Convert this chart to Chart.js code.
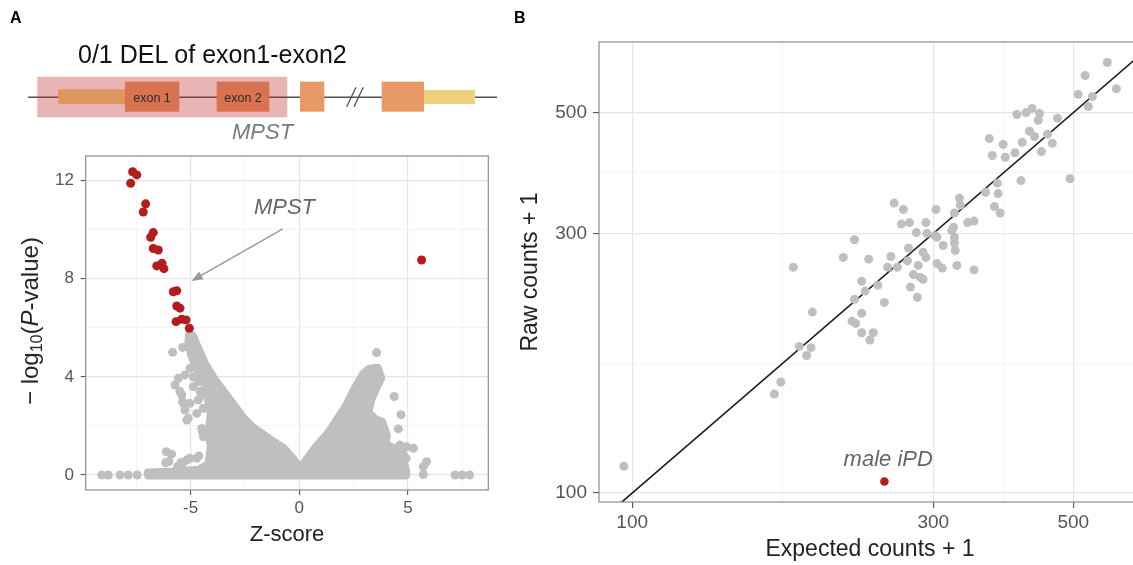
<!DOCTYPE html>
<html>
<head>
<meta charset="utf-8">
<script src="https://cdn.jsdelivr.net/npm/chart.js@4.4.0/dist/chart.umd.min.js"></script>
<style>
html, body { margin: 0; padding: 0; background: #fff; overflow: hidden; }
#wrap { position: relative; width: 1133px; height: 565px; overflow: hidden; font-family: "Liberation Sans", Arial, sans-serif; }
#gene { position: absolute; left: 0; top: 0; z-index: 2; pointer-events: none; }
#boxA { position: absolute; left: 0; top: 150px; width: 500px; height: 415px; }
#boxB { position: absolute; left: 510px; top: 0; width: 650px; height: 565px; }
#ytA { position: absolute; left: 31px; top: 321px; transform: translate(-50%, -50%) rotate(-90deg);
       white-space: nowrap; font-size: 24px; color: #222; }
#ytA sub { font-size: 16px; vertical-align: -4px; }
</style>
</head>
<body>
<div id="wrap">
  <svg id="gene" width="1133" height="150" font-family="Liberation Sans, Arial, sans-serif">
    <text x="10" y="23.3" font-size="16" font-weight="bold" fill="#000">A</text>
    <text x="514" y="23.3" font-size="16" font-weight="bold" fill="#000">B</text>
    <text x="78" y="62.7" font-size="25" fill="#111">0/1 DEL of exon1-exon2</text>
    <line x1="28" y1="97.3" x2="497" y2="97.3" stroke="#505050" stroke-width="1.4"/>
    <rect x="58.3" y="89.3" width="66.7" height="14.7" fill="#f0cf7c"/>
    <rect x="125" y="81.7" width="54.3" height="30" fill="#e89a66"/>
    <rect x="216.7" y="81.7" width="52.6" height="30" fill="#e89a66"/>
    <rect x="300" y="81.7" width="24.3" height="30" fill="#e89a66"/>
    <rect x="381.7" y="81.7" width="42.3" height="30" fill="#e89a66"/>
    <rect x="424" y="90" width="51" height="14" fill="#f0cf7c"/>
    <rect x="37.3" y="76.7" width="250" height="40.6" fill="rgba(190,40,40,0.35)"/>
    <text x="152" y="101.7" font-size="12.5" fill="#2b2b2b" text-anchor="middle">exon 1</text>
    <text x="243" y="101.7" font-size="12.5" fill="#2b2b2b" text-anchor="middle">exon 2</text>
    <line x1="346.7" y1="106.7" x2="356" y2="87.3" stroke="#505050" stroke-width="1.3"/>
    <line x1="354" y1="106.7" x2="363.3" y2="87.3" stroke="#505050" stroke-width="1.3"/>
    <text x="232" y="139" font-size="22" font-style="italic" fill="#7a7a7a">MPST</text>
  </svg>
  <div id="boxA"><canvas id="volcano" width="500" height="415"></canvas></div>
  <div id="ytA">&minus; log<sub>10</sub>(<i>P</i>-value)</div>
  <div id="boxB"><canvas id="counts" width="650" height="565"></canvas></div>
</div>
<script>
// ---- panel A: Z-score vs -log10(P) ----
// outline of the dense grey cloud of windows (Z-score, -log10 P)
var cloudZ = [-6.95, -6.95, -5.8, -4.6, -4.15, -4.05, -4.15, -4.05, -4.2, -4.4, -4.75, -4.95, -5.08, -5.05,
              -4.9, -4.72, -4.34, -3.96, -3.5, -3.04, -2.58, -2.12, -1.66, -1.35, -0.74, -0.3, 0.05,
              0.25, 0.8, 1.35, 1.75, 2.2, 2.5, 2.95, 3.2, 3.6, 3.75, 3.55, 3.3, 3.15, 3.5, 3.8, 4.0, 3.95,
              4.5, 4.75, 4.8, 4.9, 4.9, -6.95];
var cloudP = [0, 0.08, 0.12, 0.2, 0.45, 1.2, 1.75, 2.5, 3.2, 3.9, 4.4, 4.9, 5.4, 5.75,
              5.65, 5.25, 4.5, 3.95, 3.4, 2.86, 2.31, 1.91, 1.63, 1.43, 1.09, 0.65, 0.25,
              0.5, 1.16, 1.7, 2.25, 2.86, 3.4, 4.1, 4.3, 4.35, 3.95, 3.6, 3.1, 2.55, 2.25, 2.15, 1.65, 1.25,
              1.0, 0.9, 0.5, 0.15, 0, 0];
// scattered grey windows outside the cloud
var greyZ = [-9.09, -8.79, -8.25, -7.87, -7.46, -6.12, -5.88, -6.15, -6.0,
             -5.6, -5.45, -5.34, -5.18, -5.03, -4.72, -4.62, -4.46, -4.49, -4.41,
             -5.57, -5.72, -5.26, -5.49, -5.37, -5.26, -5.11, -5.03, -4.88, -4.65,
             -4.34, -4.42, -4.72, -4.88, -4.65, -5.03, -4.57, -5.18, -5.41, -5.34,
             -5.83, -5.37, -4.8,
             3.56, 4.37, 4.68, 4.56, 4.63, 4.94, 5.25, 4.92, 5.86, 5.71, 5.71, 7.17, 7.5, 7.84];
var greyP = [0, 0, 0, 0, 0, 0.95, 0.85, 0.5, 0.55,
             0.35, 0.5, 0.5, 0.61, 0.68, 0.68, 0.78, 1.77, 1.9, 1.56,
             3.94, 3.67, 4.08, 3.40, 2.99, 2.65, 2.31, 2.92, 3.60, 3.06,
             3.26, 2.72, 2.51, 4.0, 3.8, 4.35, 3.4, 2.24, 3.26, 2.92,
             5.0, 5.2, 4.55,
             4.99, 3.2, 2.46, 1.88, 1.22, 1.15, 1.09, 0.68, 0.54, 0.34, 0.02, 0, 0, 0];
// significant windows (red)
var hitZ = [-7.67, -7.48, -7.76, -7.07, -7.18, -6.72, -6.84, -6.72, -6.49, -6.56, -6.32, -6.23,
            -5.80, -5.64, -5.64, -5.49, -5.67, -5.41, -5.21, -5.06, 5.63];
var hitP = [12.36, 12.23, 11.89, 11.05, 10.72, 9.88, 9.69, 9.23, 9.17, 8.52, 8.63, 8.41,
            7.47, 7.51, 6.89, 6.80, 6.25, 6.35, 6.32, 5.98, 8.76];
var zMajor = [-5, 0, 5];
var pMajor = [0, 4, 8, 12];

// ---- panel B: expected vs raw counts ----
var expectedCounts = [566, 522, 585, 509, 536, 528, 407, 421, 430, 442, 440, 472, 426, 434, 455, 368, 387, 415,
  463, 445, 372, 390, 404, 494, 413, 379, 363, 380, 260, 269, 303, 330, 331, 375, 383, 324, 267, 275, 292, 282,
  293, 302, 323, 321, 324, 340, 348, 304, 311, 324, 325, 225, 216, 237, 257, 274, 273, 289, 292, 254, 263, 284,
  304, 310, 327, 348, 180, 231, 245, 234, 225, 251, 279, 286, 289, 276, 283, 193, 231, 223, 226, 231, 241, 238,
  184, 192, 189, 172, 168, 97];
var rawCounts = [618, 585, 553, 540, 535, 513, 496, 500, 509, 498, 484, 488, 462, 452, 456, 448, 437, 441,
  439, 424, 417, 414, 422, 378, 375, 371, 357, 355, 341, 332, 332, 348, 338, 336, 327, 327, 312, 314, 314, 301,
  300, 297, 308, 304, 295, 314, 316, 295, 285, 288, 279, 292, 271, 269, 272, 282, 267, 277, 271, 260, 260, 262,
  264, 259, 262, 257, 260, 245, 241, 235, 227, 224, 252, 249, 247, 239, 229, 215, 214, 207, 205, 197, 197, 191,
  186, 185, 179, 160, 152, 112];
var ipdExpected = [251];
var ipdRaw = [105];
var diagonal = [80, 700];
var countMajor = [100, 300, 500];
var countMinor = [173.2, 387.3];

var GREY = '#bfbfbf', RED = '#b31d1d';
Chart.defaults.font.family = '"Liberation Sans", Arial, sans-serif';

function pts(xs, ys) {
  return xs.map(function (x, i) { return { x: x, y: ys[i] }; });
}
function isIn(list, v) {
  return list.some(function (m) { return Math.abs(m - v) < 1e-6; });
}
// keep the plot area exactly where the layout padding puts it
function noOverhang(s) {
  s.paddingTop = 0; s.paddingBottom = 0; s.paddingLeft = 0; s.paddingRight = 0;
}

// ggplot style panel border
var panelBorder = {
  id: 'panelBorder',
  afterDatasetsDraw: function (chart) {
    var a = chart.chartArea, ctx = chart.ctx;
    ctx.save();
    ctx.strokeStyle = '#8c8c8c';
    ctx.lineWidth = 1.2;
    ctx.strokeRect(a.left, a.top, a.right - a.left, a.bottom - a.top);
    ctx.restore();
  }
};

var mpstNote = {
  id: 'mpstNote',
  afterDatasetsDraw: function (chart) {
    var xs = chart.scales.x, ys = chart.scales.y, ctx = chart.ctx;
    var x0 = xs.getPixelForValue(-0.76), y0 = ys.getPixelForValue(10.03);
    var x1 = xs.getPixelForValue(-4.95), y1 = ys.getPixelForValue(7.91);
    var ang = Math.atan2(y1 - y0, x1 - x0);
    ctx.save();
    ctx.strokeStyle = '#999';
    ctx.fillStyle = '#999';
    ctx.lineWidth = 1.5;
    ctx.beginPath();
    ctx.moveTo(x0, y0);
    ctx.lineTo(x1 - 8 * Math.cos(ang), y1 - 8 * Math.sin(ang));
    ctx.stroke();
    ctx.beginPath();
    ctx.moveTo(x1, y1);
    ctx.lineTo(x1 - 11 * Math.cos(ang) + 4.5 * Math.sin(ang), y1 - 11 * Math.sin(ang) - 4.5 * Math.cos(ang));
    ctx.lineTo(x1 - 11 * Math.cos(ang) - 4.5 * Math.sin(ang), y1 - 11 * Math.sin(ang) + 4.5 * Math.cos(ang));
    ctx.closePath();
    ctx.fill();
    ctx.font = 'italic 22px "Liberation Sans", Arial, sans-serif';
    ctx.fillStyle = '#666';
    ctx.textAlign = 'center';
    ctx.fillText('MPST', xs.getPixelForValue(-0.68), ys.getPixelForValue(10.64));
    ctx.restore();
  }
};

var ipdNote = {
  id: 'ipdNote',
  afterDatasetsDraw: function (chart) {
    var ctx = chart.ctx;
    ctx.save();
    ctx.font = 'italic 22px "Liberation Sans", Arial, sans-serif';
    ctx.fillStyle = '#666';
    ctx.textAlign = 'center';
    ctx.fillText('male iPD', chart.scales.x.getPixelForValue(254.5), chart.scales.y.getPixelForValue(112.1));
    ctx.restore();
  }
};

function gridFor(majors) {
  return {
    color: function (c) { return isIn(majors, c.tick.value) ? '#e6e6e6' : '#f1f1f1'; },
    lineWidth: function (c) { return isIn(majors, c.tick.value) ? 1.2 : 0.8; },
    tickColor: function (c) { return isIn(majors, c.tick.value) ? '#555' : 'rgba(0,0,0,0)'; },
    tickWidth: 1.1
  };
}

new Chart(document.getElementById('volcano').getContext('2d'), {
  type: 'scatter',
  data: {
    datasets: [
      { data: pts(hitZ, hitP), backgroundColor: RED, pointRadius: 4.5, borderWidth: 0 },
      { data: pts(greyZ, greyP), backgroundColor: GREY, pointRadius: 4.5, borderWidth: 0 },
      { data: pts(cloudZ, cloudP), showLine: true, fill: 'shape', backgroundColor: GREY, borderColor: GREY,
        borderWidth: 9, borderJoinStyle: 'round', borderCapStyle: 'round', pointRadius: 0, tension: 0 }
    ]
  },
  options: {
    responsive: false,
    animation: false,
    events: [],
    layout: { padding: { top: 6, right: 11.7, left: 0, bottom: 0 } },
    plugins: { legend: { display: false }, tooltip: { enabled: false } },
    scales: {
      x: {
        type: 'linear', min: -9.83, max: 8.70,
        afterFit: function (s) { s.height = 75; noOverhang(s); },
        ticks: { stepSize: 2.5, includeBounds: false, autoSkip: false, maxRotation: 0, padding: 3.4,
          color: '#555', font: { size: 17 },
          callback: function (v) { return isIn(zMajor, v) ? String(v) : ''; } },
        grid: Object.assign(gridFor(zMajor), { tickLength: 5 }),
        border: { display: false },
        title: { display: true, text: 'Z-score', color: '#222', font: { size: 22 }, padding: { top: 0, bottom: 17 } }
      },
      y: {
        type: 'linear', min: -0.61, max: 13.0,
        afterFit: function (s) { s.width = 85.7; noOverhang(s); },
        ticks: { stepSize: 2, includeBounds: false, autoSkip: false, padding: 6.7,
          color: '#555', font: { size: 17 },
          callback: function (v) { return isIn(pMajor, v) ? String(v) : ''; } },
        grid: Object.assign(gridFor(pMajor), { tickLength: 5 }),
        border: { display: false }
      }
    }
  },
  plugins: [panelBorder, mpstNote]
});

var countGrid = [countMajor[0], countMinor[0], countMajor[1], countMinor[1], countMajor[2]];
function setCountTicks(s) {
  s.ticks = countGrid.map(function (v) { return { value: v }; });
}

new Chart(document.getElementById('counts').getContext('2d'), {
  type: 'scatter',
  data: {
    datasets: [
      { data: pts(ipdExpected, ipdRaw), backgroundColor: RED, pointRadius: 4.3, borderWidth: 0 },
      { data: pts(expectedCounts, rawCounts), backgroundColor: GREY, pointRadius: 4.5, borderWidth: 0 },
      { data: pts(diagonal, diagonal), showLine: true, borderColor: '#1a1a1a', borderWidth: 1.6,
        pointRadius: 0, fill: false }
    ]
  },
  options: {
    responsive: false,
    animation: false,
    events: [],
    layout: { padding: { top: 42, right: 19, left: 0, bottom: 0 } },
    plugins: { legend: { display: false }, tooltip: { enabled: false } },
    scales: {
      x: {
        type: 'logarithmic', min: 88.6, max: 640,
        afterBuildTicks: setCountTicks,
        afterFit: function (s) { s.height = 63; noOverhang(s); },
        ticks: { autoSkip: false, maxRotation: 0, padding: 3.6, color: '#555', font: { size: 19 },
          callback: function (v) { return isIn(countMajor, v) ? String(v) : ''; } },
        grid: Object.assign(gridFor(countMajor), { tickLength: 6 }),
        border: { display: false },
        title: { display: true, text: 'Expected counts + 1', color: '#222', font: { size: 23 },
          padding: { top: 0, bottom: 1.2 } }
      },
      y: {
        type: 'logarithmic', min: 96.3, max: 674,
        afterBuildTicks: setCountTicks,
        afterFit: function (s) { s.width = 89; noOverhang(s); },
        ticks: { autoSkip: false, padding: 6, color: '#555', font: { size: 19 },
          callback: function (v) { return isIn(countMajor, v) ? String(v) : ''; } },
        grid: Object.assign(gridFor(countMajor), { tickLength: 6 }),
        border: { display: false },
        title: { display: true, text: 'Raw counts + 1', color: '#222', font: { size: 23 },
          padding: { top: 7.2, bottom: 0 } }
      }
    }
  },
  plugins: [panelBorder, ipdNote]
});
</script>
</body>
</html>
